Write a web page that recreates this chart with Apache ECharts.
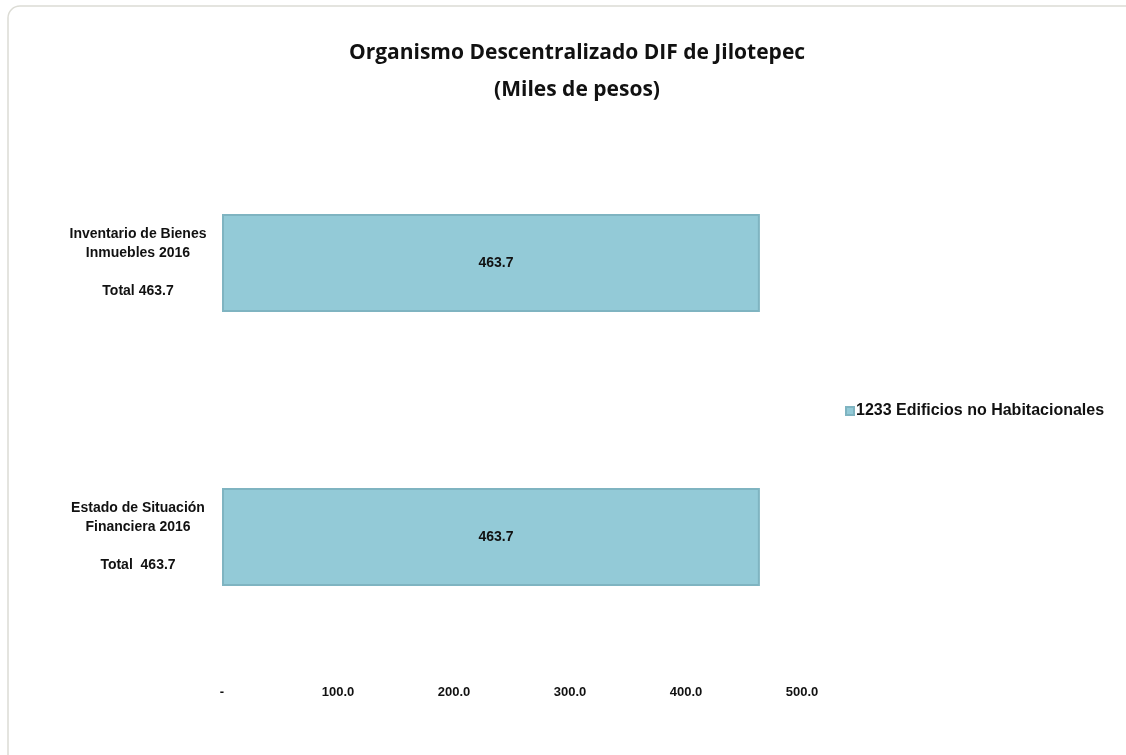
<!DOCTYPE html>
<html>
<head>
<meta charset="utf-8">
<script src="https://cdn.jsdelivr.net/npm/echarts@6/dist/echarts.min.js"></script>
<style>
html,body{margin:0;padding:0;background:#fff;}
#chart{width:1126px;height:755px;}
</style>
</head>
<body>
<div id="chart"></div>
<script>
const titleLines = ['Organismo Descentralizado DIF de Jilotepec', '(Miles de pesos)'];
const categories = [
  'Estado de Situación\nFinanciera 2016\n\nTotal  463.7',
  'Inventario de Bienes\nInmuebles 2016\n\nTotal 463.7'
];
const seriesName = '1233 Edificios no Habitacionales';
const seriesValues = [463.7, 463.7];
const xTicks = [0, 100, 200, 300, 400, 500];

const chart = echarts.init(document.getElementById('chart'));
chart.setOption({
  backgroundColor: '#ffffff',
  animation: false,
  graphic: [{
    type: 'rect',
    shape: { x: 8, y: 6, width: 1300, height: 900, r: 12 },
    style: { fill: 'none', stroke: '#dcdcd5', lineWidth: 1.5 },
    silent: true
  }],
  title: {
    text: titleLines.join('\n'),
    left: 572,
    textAlign: 'center',
    top: 30,
    textStyle: {
      fontFamily: '"Open Sans", sans-serif',
      fontWeight: 'bold',
      fontSize: 21,
      lineHeight: 37,
      color: '#111'
    }
  },
  legend: {
    data: [seriesName],
    left: 840,
    top: 398,
    orient: 'vertical',
    itemWidth: 8,
    itemHeight: 8,
    itemGap: 4,
    icon: 'rect',
    textStyle: {
      fontFamily: '"Liberation Sans", Arial, sans-serif',
      fontWeight: 'bold',
      fontSize: 16,
      color: '#111',
      padding: [0, 0, 0, -3]
    }
  },
  grid: { left: 222, right: 1126 - 802, top: 126, bottom: 755 - 674, containLabel: false },
  xAxis: {
    type: 'value',
    min: 0,
    max: 500,
    interval: 100,
    axisLine: { show: false },
    axisTick: { show: false },
    splitLine: { show: false },
    axisLabel: {
      margin: 12,
      fontFamily: '"Liberation Sans", Arial, sans-serif',
      fontWeight: 'bold',
      fontSize: 13,
      color: '#111',
      formatter: v => xTicks.indexOf(v) === 0 ? '-' : v.toFixed(1)
    }
  },
  yAxis: {
    type: 'category',
    data: categories,
    axisLine: { show: false },
    axisTick: { show: false },
    splitLine: { show: false },
    axisLabel: {
      align: 'center',
      margin: 84,
      fontFamily: '"Liberation Sans", Arial, sans-serif',
      fontWeight: 'bold',
      fontSize: 14,
      lineHeight: 19,
      color: '#111'
    }
  },
  series: [{
    name: seriesName,
    type: 'bar',
    data: seriesValues,
    barWidth: 98,
    itemStyle: {
      color: '#93cad7',
      borderColor: '#7fb4c1',
      borderWidth: 2
    },
    label: {
      show: true,
      position: 'inside',
      offset: [5, 0],
      formatter: p => p.value.toFixed(1),
      fontFamily: '"Liberation Sans", Arial, sans-serif',
      fontWeight: 'bold',
      fontSize: 14,
      color: '#111'
    }
  }]
});
</script>
</body>
</html>
